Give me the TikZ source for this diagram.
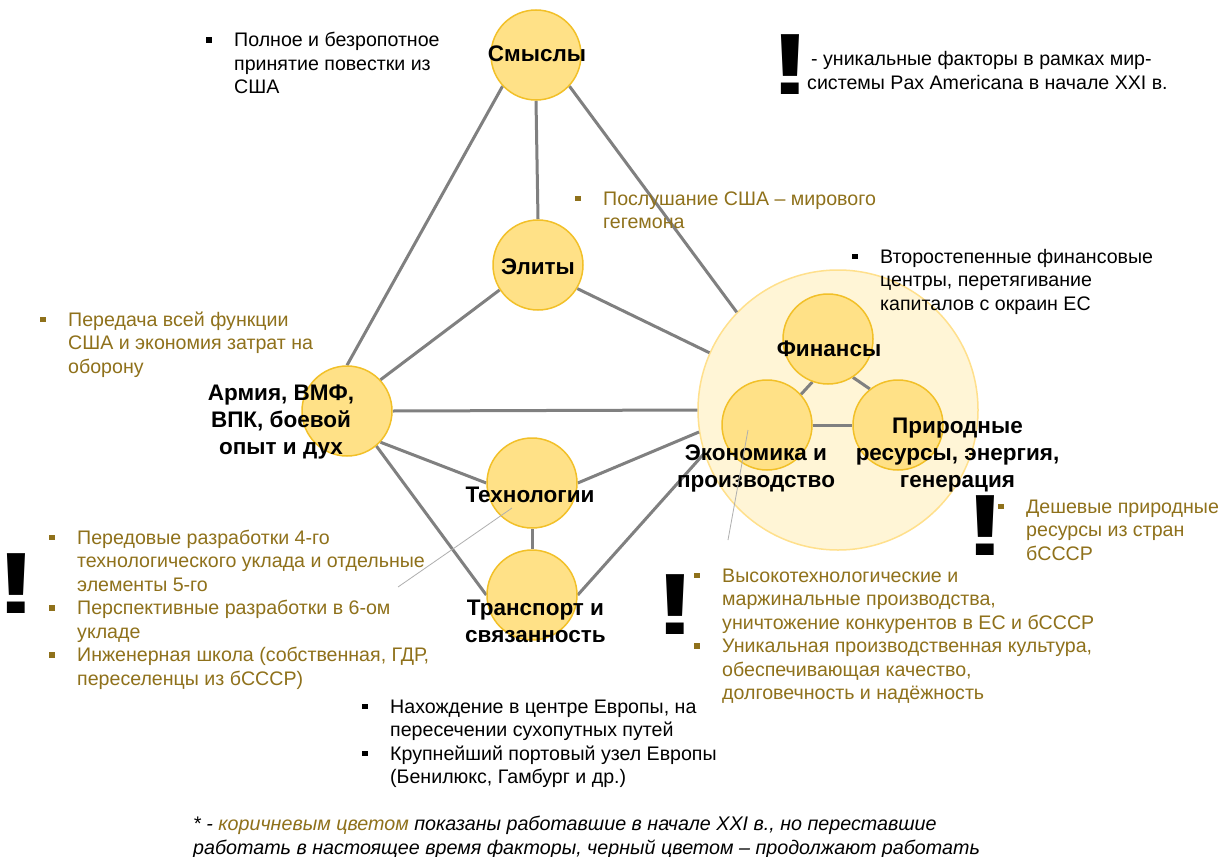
\documentclass[tikz,border=0pt]{standalone}
\usepackage{graphicx}
\usepackage{fontspec}
\setmainfont{Liberation Sans}
\definecolor{brn}{RGB}{143,113,27}
\definecolor{cfill}{RGB}{255,225,135}
\definecolor{cdraw}{RGB}{242,192,40}
\definecolor{bfill}{RGB}{255,245,214}
\definecolor{bdraw}{RGB}{255,224,140}
\definecolor{edgec}{RGB}{128,128,128}
\definecolor{ptrc}{RGB}{175,175,175}
\newcommand\sqb{\rule[4pt]{5.5pt}{5.5pt}}
\newcommand\bx{\makebox[28pt][l]{\sqb}}
\newcommand\bang{\makebox[18pt]{\scalebox{1.45}[1]{!}}}
\pgfdeclarelayer{back}
\pgfdeclarelayer{edges}
\pgfsetlayers{back,edges,main}
\begin{document}
\begin{tikzpicture}[x=1pt,y=-1pt,
 sm/.style={circle,fill=cfill,draw=cdraw,line width=1.5pt,minimum size=90pt,inner sep=0pt},
 bigc/.style={circle,fill=bfill,draw=bdraw,line width=1.5pt,minimum size=280pt,inner sep=0pt},
 lbl/.style={font=\fontsize{22.5}{27}\selectfont\bfseries,align=center,inner sep=0pt},
 con/.style={draw=edgec,line width=3pt},
 ptr/.style={draw=ptrc,line width=0.8pt},
 txt/.style={font=\fontsize{19.6}{23.5}\selectfont,inner sep=0pt,anchor=base west},
 btxt/.style={txt,text=brn},
 excl/.style={font=\fontsize{87}{87}\selectfont\bfseries,inner sep=0pt}]
\useasboundingbox (0,0) rectangle (1225,856);
\begin{pgfonlayer}{back}
\fill[white] (0,0) rectangle (1225,856);
\node[bigc] (big) at (838,410) {};
\end{pgfonlayer}
% circles
\node[sm] (smy) at (536,55) {};
\node[sm] (eli) at (538,265) {};
\node[sm] (arm) at (347,411) {};
\node[sm] (tec) at (532,483) {};
\node[sm] (tra) at (532,595) {};
\node[sm] (fin) at (828,339) {};
\node[sm] (eco) at (767,425) {};
\node[sm] (pri) at (898,425) {};
% connectors
\begin{pgfonlayer}{edges}
\draw[con] (smy.270) -- (eli.90);
\draw[con] (smy.223) -- (arm.90);
\draw[con] (smy.-43) -- (big.136);
\draw[con] (eli.213) -- (arm.43);
\draw[con] (eli.-31) -- (big.156);
\draw[con] (arm.0) -- (big.180);
\draw[con] (arm.-43) -- (tec.180);
\draw[con] (arm.-50) -- (tra.180);
\draw[con] (tec.0) -- (big.189);
\draw[con] (tra.0) -- (big.198);
\draw[con] (tec.270) -- (tra.90);
\draw[con] (fin.250) -- (eco.42);
\draw[con] (fin.303) -- (pri.128);
\draw[con] (eco.0) -- (pri.180);
\end{pgfonlayer}
% labels
\node[lbl] (lsmy) at (537,54) {Смыслы};
\node[lbl] (leli) at (538,267) {Элиты};
\node[lbl] (larm) at (281,422) {Армия, ВМФ,\\ВПК, боевой\\опыт и дух};
\node[lbl] (ltec) at (530,495) {Технологии};
\node[lbl] (ltra) at (535.5,621) {Транспорт и\\связанность};
\node[lbl] (lfin) at (829,349) {Финансы};
\node[lbl] (leco) at (756,468) {Экономика и\\производство};
\node[lbl] (lpri) at (957.5,455) {Природные\\ресурсы, энергия,\\генерация};
% pointer lines
\coordinate (p1a) at (512,508);
\coordinate (p1b) at (398,587);
\coordinate (p2a) at (748,430);
\coordinate (p2b) at (728,540);
\draw[ptr] (p1a) -- (p1b);
\draw[ptr] (p2a) -- (p2b);
% exclamation marks
\node[excl] (e1) at (790,64.5) {\bang};
\node[excl] (e2) at (16.5,583.5) {\bang};
\node[excl] (e3) at (985.5,526) {\bang};
\node[excl] (e4) at (675.5,604.5) {\bang};
% text blocks
\node[txt] (t1) at (206,47) {\begin{tabular}[t]{@{}l@{}l@{}}\bx & Полное и безропотное\\ & принятие повестки из\\ & США\end{tabular}};
\node[txt] (t2) at (807,66) {\begin{tabular}[t]{@{}l@{}}\hspace*{4pt}- уникальные факторы в рамках мир-\\системы Pax Americana в начале XXI в.\end{tabular}};
\node[btxt] (t3) at (575,205) {\begin{tabular}[t]{@{}l@{}l@{}}\bx & Послушание США – мирового\\ & гегемона\end{tabular}};
\node[txt] (t4) at (852,263) {\begin{tabular}[t]{@{}l@{}l@{}}\bx & Второстепенные финансовые\\ & центры, перетягивание\\ & капиталов с окраин ЕС\end{tabular}};
\node[btxt] (t5) at (40,326) {\begin{tabular}[t]{@{}l@{}l@{}}\bx & Передача всей функции\\ & США и экономия затрат на\\ & оборону\end{tabular}};
\node[btxt] (t6) at (49,544) {\begin{tabular}[t]{@{}l@{}l@{}}\bx & Передовые разработки 4-го\\ & технологического уклада и отдельные\\ & элементы 5-го\\ \bx & Перспективные разработки в 6-ом\\ & укладе\\ \bx & Инженерная школа (собственная, ГДР,\\ & переселенцы из бСССР)\end{tabular}};
\node[btxt] (t7) at (998,513) {\begin{tabular}[t]{@{}l@{}l@{}}\bx & Дешевые природные\\ & ресурсы из стран\\ & бСССР\end{tabular}};
\node[btxt] (t8) at (694,582) {\begin{tabular}[t]{@{}l@{}l@{}}\bx & Высокотехнологические и\\ & маржинальные производства,\\ & уничтожение конкурентов в ЕС и бСССР\\ \bx & Уникальная производственная культура,\\ & обеспечивающая качество,\\ & долговечность и надёжность\end{tabular}};
\node[txt] (t9) at (362,713) {\begin{tabular}[t]{@{}l@{}l@{}}\bx & Нахождение в центре Европы, на\\ & пересечении сухопутных путей\\ \bx & Крупнейший портовый узел Европы\\ & (Бенилюкс, Гамбург и др.)\end{tabular}};
\node[txt,font=\fontsize{19.7}{24}\selectfont\itshape] (foot) at (193,830) {\begin{tabular}[t]{@{}l@{}}* - {\color{brn}коричневым цветом} показаны работавшие в начале XXI в., но переставшие\\работать в настоящее время факторы, черный цветом – продолжают работать\end{tabular}};
\end{tikzpicture}
\end{document}
